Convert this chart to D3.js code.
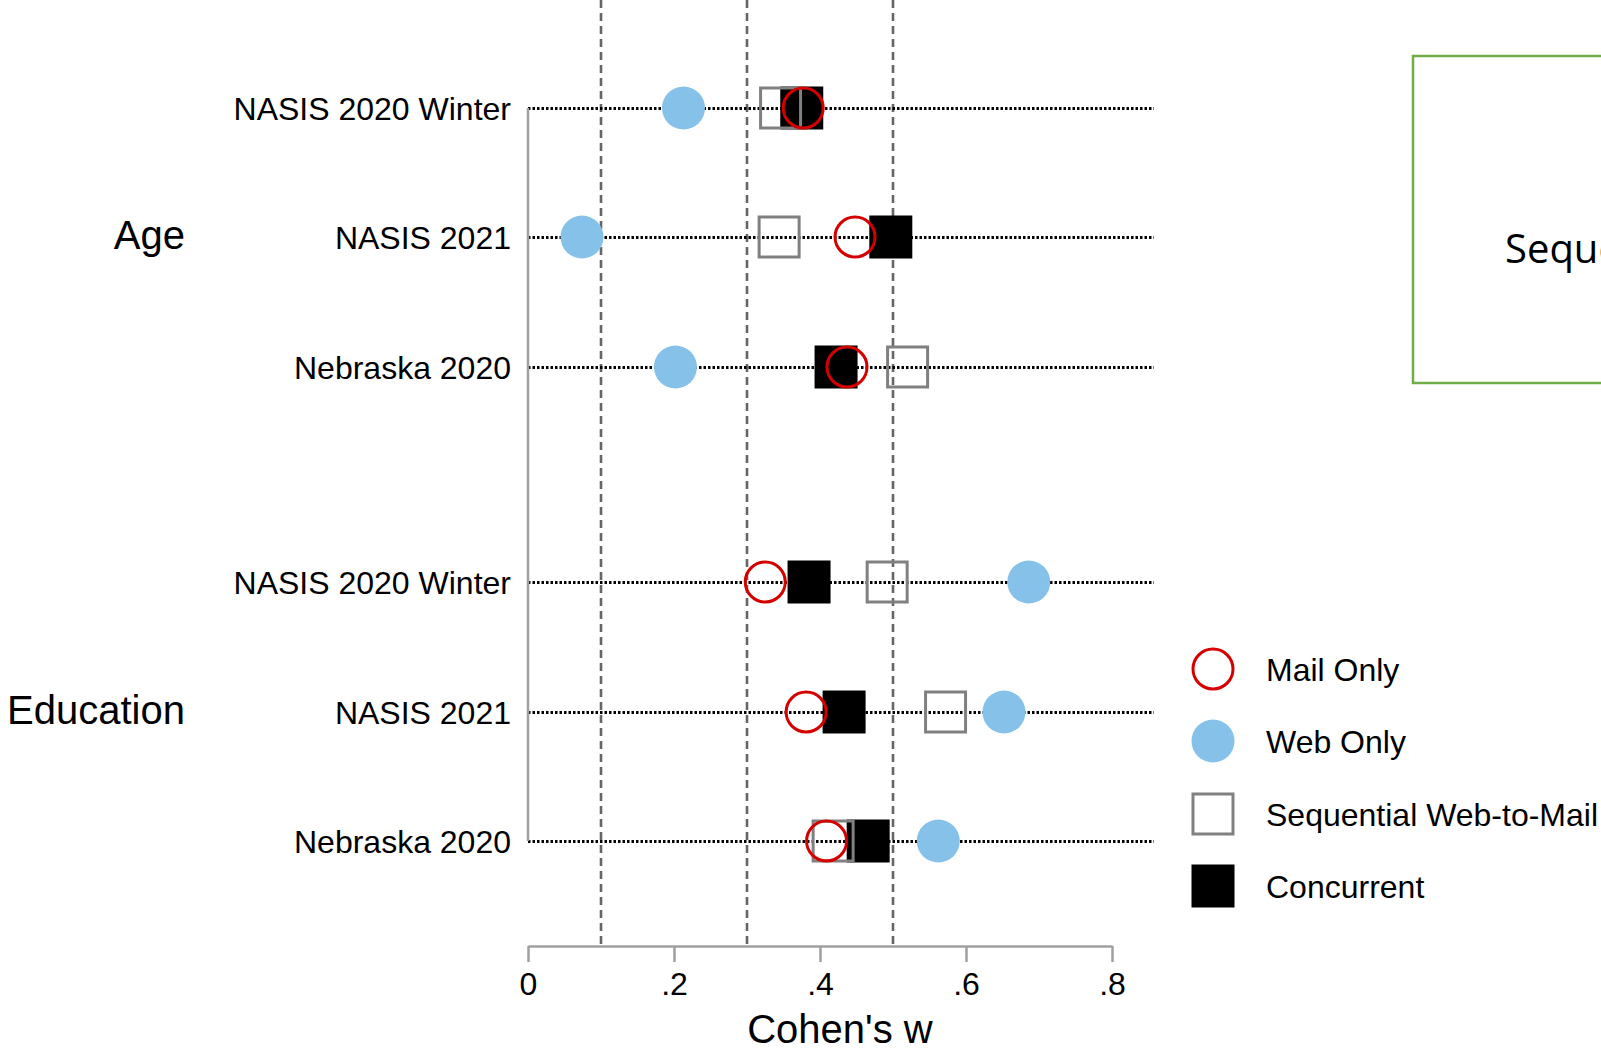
<!DOCTYPE html>
<html>
<head>
<meta charset="utf-8">
<script src="https://cdn.jsdelivr.net/npm/d3@7"></script>
<style>
  body { margin: 0; background: #fff; overflow: hidden; }
  svg { display: block; font-family: "Liberation Sans", Arial, sans-serif; }
</style>
</head>
<body>
<svg id="chart" width="1601" height="1048"></svg>
<script>
// data
var groups = ["Age", "Education"];
var surveys = ["NASIS 2020 Winter", "NASIS 2021", "Nebraska 2020"];
var mailOnly   = [0.377, 0.448, 0.437, 0.325, 0.381, 0.409];
var webOnly    = [0.213, 0.074, 0.202, 0.686, 0.652, 0.562];
var sequential = [0.346, 0.344, 0.520, 0.492, 0.572, 0.418];
var concurrent = [0.375, 0.497, 0.422, 0.385, 0.433, 0.466];
var xTicks = [0, 0.2, 0.4, 0.6, 0.8];
var refLines = [0.1, 0.3, 0.5];
var legendLabels = ["Mail Only", "Web Only", "Sequential Web-to-Mail", "Concurrent"];

var svg = d3.select('#chart');
svg.append("rect").attr("width", 1601).attr("height", 1048).attr("fill", "#fff");

var x = d3.scaleLinear().domain([0, 0.8]).range([528, 1112]);
// row position: groups separated by a gap
var gap = 3.67;
var y = d3.scaleLinear().domain([0, gap + 2]).rangeRound([108, 841]);

var rows = [];
groups.forEach(function(g, gi) {
    surveys.forEach(function(s, si) {
        rows.push({ group: g, survey: s, pos: gi * gap + si, idx: gi * 3 + si });
    });
});

// reference dashed lines
svg.selectAll(".ref").data(refLines).enter().append("line")
    .attr("x1", d => x(d)).attr("x2", d => x(d))
    .attr("y1", 0).attr("y2", 946)
    .attr("stroke", "#666").attr("stroke-width", 2.6)
    .attr("stroke-dasharray", "8,5");

// dotted row lines
svg.selectAll(".row").data(rows).enter().append("line")
    .attr("x1", 528).attr("x2", 1154)
    .attr("y1", d => y(d.pos) + 0.5).attr("y2", d => y(d.pos) + 0.5)
    .attr("stroke", "#000").attr("stroke-width", 3)
    .attr("stroke-dasharray", "2.5,2");

// left vertical line
svg.append("line")
    .attr("x1", 528).attr("x2", 528)
    .attr("y1", y(0)).attr("y2", y(gap + 2))
    .attr("stroke", "#a0a0a0").attr("stroke-width", 2.5);

// row labels
svg.selectAll(".rlab").data(rows).enter().append("text")
    .attr("x", 511).attr("y", d => y(d.pos) + 11.5)
    .attr("text-anchor", "end").attr("font-size", 32)
    .text(d => d.survey);

// group labels
svg.selectAll(".glab").data(groups).enter().append("text")
    .attr("x", 185).attr("y", (d, i) => y(i * gap + 1) + 12)
    .attr("text-anchor", "end").attr("font-size", 40)
    .text(d => d);

// markers: web, concurrent, sequential, mail
var s = 21.5;
svg.selectAll(".web").data(rows).enter().append("circle")
    .attr("cx", d => x(webOnly[d.idx])).attr("cy", d => y(d.pos))
    .attr("r", s).attr("fill", "#85c1e9");

svg.selectAll(".conc").data(rows).enter().append("rect")
    .attr("x", d => x(concurrent[d.idx]) - s).attr("y", d => y(d.pos) - s)
    .attr("width", 2 * s).attr("height", 2 * s).attr("fill", "#000");

svg.selectAll(".seq").data(rows).enter().append("rect")
    .attr("x", d => x(sequential[d.idx]) - s + 1.5).attr("y", d => y(d.pos) - s + 1.5)
    .attr("width", 2 * s - 3).attr("height", 2 * s - 3)
    .attr("fill", "none").attr("stroke", "#808080").attr("stroke-width", 3);

svg.selectAll(".mail").data(rows).enter().append("circle")
    .attr("cx", d => x(mailOnly[d.idx])).attr("cy", d => y(d.pos))
    .attr("r", s - 1.5).attr("fill", "none")
    .attr("stroke", "#d40000").attr("stroke-width", 3);

// x axis
var xAxis = d3.axisBottom(x).tickValues(xTicks)
    .tickSize(16).tickSizeOuter(0).tickPadding(10)
    .tickFormat(d => d === 0 ? "0" : d3.format(".1f")(d).replace(/^0/, ""));

var gx = svg.append("g")
    .attr("transform", "translate(0,946)")
    .call(xAxis);
gx.selectAll("path, line").attr("stroke", "#a0a0a0").attr("stroke-width", 2.5);
gx.selectAll("text").attr("font-size", 32).attr("fill", "#000")
    .style("font-family", "'Liberation Sans', Arial, sans-serif");

svg.append("text")
    .attr("x", 840).attr("y", 1043)
    .attr("text-anchor", "middle").attr("font-size", 40)
    .text("Cohen's w");

// legend
var legY = [669, 741, 814, 886];
var leg = svg.selectAll(".leg").data(legendLabels).enter().append("g")
    .attr("transform", (d, i) => "translate(1188," + legY[i] + ")");
leg.append("text").attr("x", 78).attr("y", 11.5).attr("font-size", 32).text(d => d);

leg.filter((d, i) => i === 0).append("circle").attr("cx", 25).attr("r", s - 1.5)
    .attr("fill", "none").attr("stroke", "#d40000").attr("stroke-width", 3);
leg.filter((d, i) => i === 1).append("circle").attr("cx", 25).attr("r", s).attr("fill", "#85c1e9");
leg.filter((d, i) => i === 2).append("rect").attr("x", 25 - s + 1.5).attr("y", -s + 1.5)
    .attr("width", 2 * s - 3).attr("height", 2 * s - 3)
    .attr("fill", "none").attr("stroke", "#808080").attr("stroke-width", 3);
leg.filter((d, i) => i === 3).append("rect").attr("x", 25 - s).attr("y", -s)
    .attr("width", 2 * s).attr("height", 2 * s).attr("fill", "#000");

// green annotation box (cut off at the right edge, as in the source)
svg.append("rect")
    .attr("x", 1413).attr("y", 56).attr("width", 260).attr("height", 327)
    .attr("fill", "none").attr("stroke", "#70ad47").attr("stroke-width", 2.5);
svg.append("text")
    .attr("x", 1505).attr("y", 263)
    .attr("font-size", 40).style("font-family", "'Open Sans', sans-serif")
    .text("Sequential");
</script>
</body>
</html>
